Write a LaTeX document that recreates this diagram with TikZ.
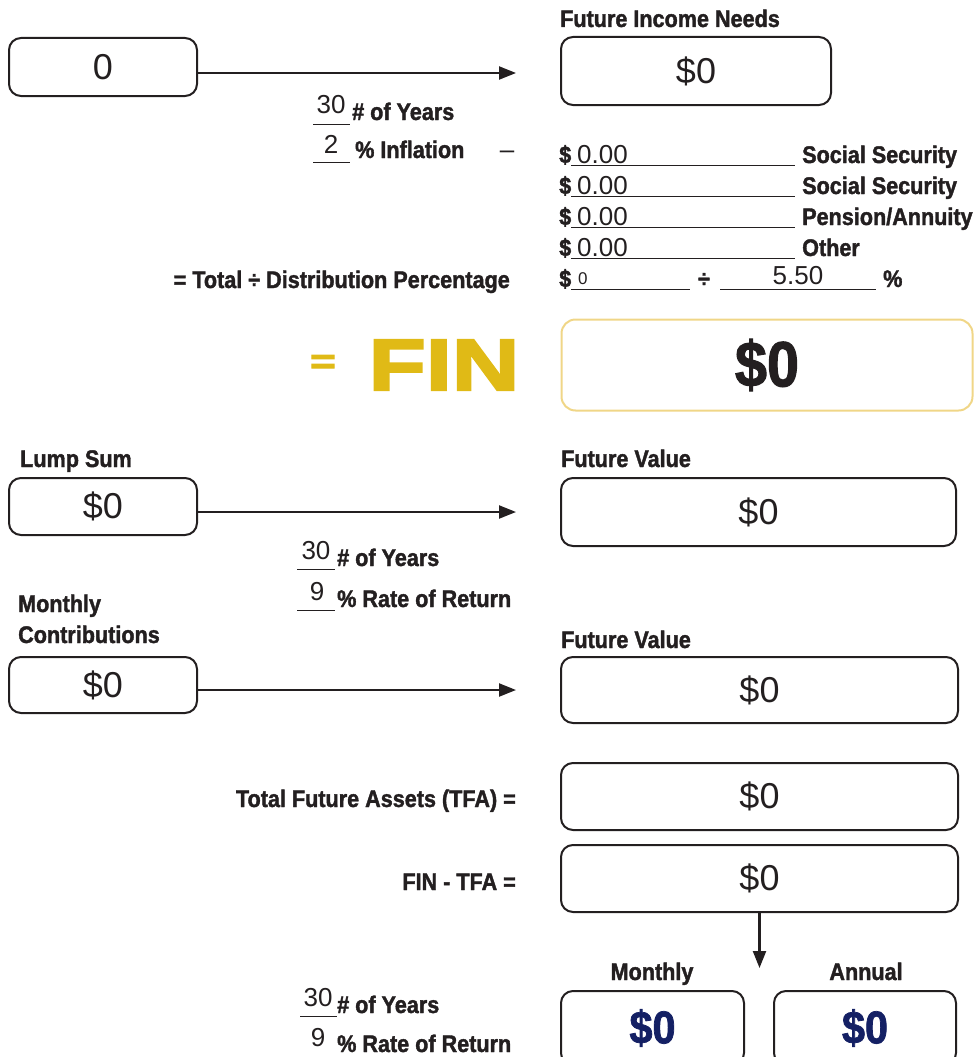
\documentclass[tikz,border=0pt]{standalone}
\usepackage{fontspec}
\setmainfont{Liberation Sans}
\newfontfamily\labfont[FakeStretch=0.9,FakeBold=1.6]{Liberation Sans}
\newfontfamily\finfont[FakeStretch=1.30,FakeBold=3.5]{Liberation Sans}
\usetikzlibrary{arrows.meta}
\definecolor{fingold}{RGB}{224,186,22}
\definecolor{finborder}{RGB}{240,214,135}
\definecolor{navy}{RGB}{20,32,100}
\definecolor{ink}{RGB}{35,31,32}
\begin{document}
\begin{tikzpicture}[x=1pt,y=-1pt,
  box/.style={draw=ink, line width=2pt, rounded corners=12pt, inner sep=0pt, text=ink, font=\fontsize{36}{36}\selectfont},
  lbl/.style={inner sep=0pt, text=ink, font=\labfont\bfseries\fontsize{24}{24}\selectfont},
  num/.style={inner sep=0pt, text=ink, font=\fontsize{26}{26}\selectfont},
  smallnum/.style={inner sep=0pt, text=ink, font=\fontsize{17}{17}\selectfont},
  uline/.style={draw=ink, line width=1pt},
  arr/.style={draw=ink, line width=2.2pt, -{Triangle[length=17pt,width=13pt]}},
  bigbold/.style={font=\labfont\bfseries\fontsize{64}{64}\selectfont},
  navybold/.style={text=navy, font=\labfont\bfseries\fontsize{46}{46}\selectfont}]
\useasboundingbox (0,0) rectangle (976,1057);
\clip (0,0) rectangle (976,1057);

% ---------- Future income needs ----------
\node[box, minimum width=188pt, minimum height=58pt] (init) at (103,67) {0};
\node[lbl, anchor=base west] (finlbl) at (560,27) {Future Income Needs};
\node[box, minimum width=270pt, minimum height=68pt] (finneed) at (696,71) {\$0};
\coordinate (e1) at (516,73);
\draw[arr] (e1 -| init.east) -- (e1);

\node[num, anchor=base] (y1n) at (331,113) {30};
\node[lbl, anchor=base west] (y1l) at (352,120) {\# of Years};
\coordinate (u1a) at (313,124); \coordinate (u1b) at (350,124);
\draw[uline] (u1a) -- (u1b);
\node[num, anchor=base] (i1n) at (331,153) {2};
\node[lbl, anchor=base west] (i1l) at (355,158) {\% Inflation};
\coordinate (u2a) at (313,162); \coordinate (u2b) at (350,162);
\draw[uline] (u2a) -- (u2b);
\node[num, anchor=base] (dash) at (507,158) {\textendash};

% rows
\foreach \yy/\nm/\tx in {163/r1/{Social Security}, 194/r2/{Social Security}, 225/r3/{Pension/Annuity}, 256/r4/{Other}}{
  \node[lbl, anchor=base west] (\nm d) at (559,\yy) {\$};
  \node[num, anchor=base west] (\nm n) at (577,\yy) {0.00};
  \coordinate (\nm a) at (571,\yy+2); \coordinate (\nm b) at (795,\yy+2);
  \draw[uline] (\nm a) -- (\nm b);
  \node[lbl, anchor=base west] (\nm l) at (802,\yy) {\tx};
}
\node[lbl, anchor=base west] (r5d) at (559,287) {\$};
\node[smallnum, anchor=base west] (r5n) at (578,284) {0};
\coordinate (r5a) at (571,289); \coordinate (r5b) at (690,289);
\draw[uline] (r5a) -- (r5b);
\node[lbl, anchor=base] (r5div) at (704,287) {÷};
\coordinate (r5c) at (720,289); \coordinate (r5e) at (876,289);
\draw[uline] (r5c) -- (r5e);
\node[num, anchor=base] (r5p) at (798,284) {5.50};
\node[lbl, anchor=base west] (r5pc) at (883,287) {\%};
\node[lbl, anchor=base east] (totlbl) at (510,288) {= Total ÷ Distribution Percentage};

% ---------- FIN ----------
\node[inner sep=0pt, text=fingold, font=\finfont\bfseries\fontsize{34}{34}\selectfont] (feq) at (323,364) {=};
\node[inner sep=0pt, text=fingold, font=\finfont\bfseries\fontsize{72}{72}\selectfont] (fin) at (444,365) {FIN};
\node[draw=finborder, line width=2pt, rounded corners=14pt, minimum width=411pt, minimum height=91pt, inner sep=0pt, text=ink, bigbold] (finbox) at (767,365) {\$0};

% ---------- Lump sum ----------
\node[lbl, anchor=base west] (lumplbl) at (20,467) {Lump Sum};
\node[box, minimum width=188pt, minimum height=57pt] (lump) at (103,506.5) {\$0};
\node[lbl, anchor=base west] (fv1lbl) at (561,467) {Future Value};
\node[box, minimum width=395pt, minimum height=68pt] (fv1) at (758.5,512) {\$0};
\coordinate (e2) at (516,512);
\draw[arr] (e2 -| lump.east) -- (e2);

\node[num, anchor=base] (y2n) at (316,559) {30};
\node[lbl, anchor=base west] (y2l) at (337,566) {\# of Years};
\coordinate (u3a) at (297,569); \coordinate (u3b) at (335,569);
\draw[uline] (u3a) -- (u3b);
\node[num, anchor=base] (r2n) at (317,600) {9};
\node[lbl, anchor=base west] (r2l) at (337,607) {\% Rate of Return};
\coordinate (u4a) at (297,610); \coordinate (u4b) at (335,610);
\draw[uline] (u4a) -- (u4b);

% ---------- Monthly contributions ----------
\node[lbl, anchor=base west] (mclbl1) at (18,612) {Monthly};
\node[lbl, anchor=base west] (mclbl2) at (18,643) {Contributions};
\node[box, minimum width=188pt, minimum height=56pt] (mc) at (103,685) {\$0};
\node[lbl, anchor=base west] (fv2lbl) at (561,648) {Future Value};
\node[box, minimum width=397pt, minimum height=66pt] (fv2) at (759.5,690) {\$0};
\coordinate (e3) at (516,690);
\draw[arr] (e3 -| mc.east) -- (e3);

% ---------- TFA ----------
\node[lbl, anchor=base east] (tfalbl) at (516,807) {Total Future Assets (TFA) =};
\node[box, minimum width=397pt, minimum height=67pt] (tfa) at (759.5,796.5) {\$0};
\node[lbl, anchor=base east] (diflbl) at (516,890) {FIN - TFA =};
\node[box, minimum width=397pt, minimum height=67pt] (dif) at (759.5,878.5) {\$0};
\coordinate (e4) at (759.5,968);
\draw[arr] (dif.south) -- (e4);

% ---------- Monthly / Annual ----------
\node[lbl, anchor=base] (molbl) at (652,980) {Monthly};
\node[lbl, anchor=base] (anlbl) at (866,980) {Annual};
\node[box, minimum width=183pt, minimum height=74pt, navybold] (mo) at (652.5,1028) {\$0};
\node[box, minimum width=182pt, minimum height=74pt, navybold] (an) at (865,1028) {\$0};

\node[num, anchor=base] (y3n) at (318,1006) {30};
\node[lbl, anchor=base west] (y3l) at (337,1013) {\# of Years};
\coordinate (u5a) at (300,1016); \coordinate (u5b) at (337,1016);
\draw[uline] (u5a) -- (u5b);
\node[num, anchor=base] (r3n) at (318,1046) {9};
\node[lbl, anchor=base west] (r3l) at (337,1052) {\% Rate of Return};
\end{tikzpicture}
\end{document}
